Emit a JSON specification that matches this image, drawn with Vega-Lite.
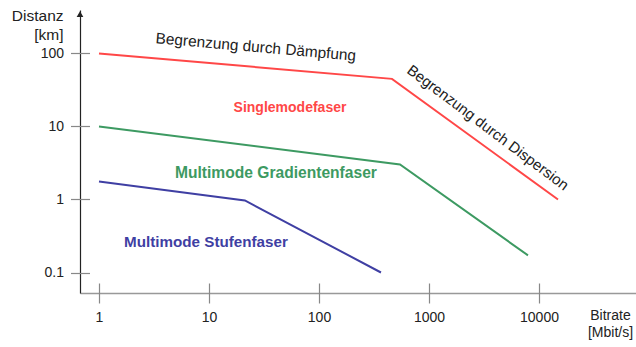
{
  "$schema": "https://vega.github.io/schema/vega-lite/v6.json",
  "width": 556,
  "height": 283,
  "autosize": "none",
  "padding": {"left": 80, "top": 10, "right": 0, "bottom": 54},
  "background": "white",
  "config": {
    "view": {"stroke": null},
    "font": "Liberation Sans",
    "axis": {"labelFont": "Liberation Sans", "titleFont": "Liberation Sans", "labelFontSize": 14, "titleFontSize": 14, "titleFontWeight": "normal", "labelColor": "#222", "titleColor": "#222", "grid": false}
  },
  "datasets": {
    "lines": [
      {"fiber": "Singlemodefaser", "bitrate": 1, "distanz": 100},
      {"fiber": "Singlemodefaser", "bitrate": 461, "distanz": 44.9},
      {"fiber": "Singlemodefaser", "bitrate": 14890, "distanz": 1.0},
      {"fiber": "Multimode Gradientenfaser", "bitrate": 1, "distanz": 10},
      {"fiber": "Multimode Gradientenfaser", "bitrate": 545, "distanz": 3.01},
      {"fiber": "Multimode Gradientenfaser", "bitrate": 7940, "distanz": 0.172},
      {"fiber": "Multimode Stufenfaser", "bitrate": 1, "distanz": 1.77},
      {"fiber": "Multimode Stufenfaser", "bitrate": 21.2, "distanz": 0.97},
      {"fiber": "Multimode Stufenfaser", "bitrate": 366, "distanz": 0.1}
    ],
    "labels": [
      {"fiber": "Singlemodefaser", "bitrate": 54.5, "distanz": 18.0},
      {"fiber": "Multimode Gradientenfaser", "bitrate": 40.6, "distanz": 2.34},
      {"fiber": "Multimode Stufenfaser", "bitrate": 9.39, "distanz": 0.26}
    ],
    "notes": [
      {"note": "Begrenzung durch Dämpfung", "bitrate": 26.7, "distanz": 122.7},
      {"note": "Begrenzung durch Dispersion", "bitrate": 3437, "distanz": 9.64}
    ],
    "arrow": [
      {"bitrate": 0.672, "distanz": 346}
    ]
  },
  "resolve": {"axis": {"x": "independent", "y": "independent"}},
  "layer": [
    {
      "data": {"name": "lines"},
      "mark": {"type": "line", "strokeWidth": 2},
      "encoding": {
        "x": {"field": "bitrate", "type": "quantitative", "scale": {"type": "log", "domain": [0.672, 76200], "nice": false},
          "axis": {"orient": "bottom", "domain": true, "domainColor": "#999", "domainWidth": 1.6, "ticks": false, "labels": false,
            "title": ["Bitrate", "[Mbit/s]"], "titleAngle": 0, "titleAlign": "center", "titleBaseline": "middle", "titleX": 530, "titleY": 22, "titleLineHeight": 17, "titleFontSize": 14}},
        "y": {"field": "distanz", "type": "quantitative", "scale": {"type": "log", "domain": [0.0524, 394], "nice": false},
          "axis": {"orient": "left", "domain": true, "domainColor": "#222", "domainWidth": 1.2, "ticks": false, "labels": false,
            "title": ["Distanz", "[km]"], "titleAngle": 0, "titleAlign": "right", "titleBaseline": "middle", "titleX": -17, "titleY": 5, "titleLineHeight": 19, "titleFontSize": 15.5}},
        "color": {"field": "fiber", "type": "nominal", "legend": null,
          "scale": {"domain": ["Singlemodefaser", "Multimode Gradientenfaser", "Multimode Stufenfaser"], "range": ["#ff4747", "#3d9a62", "#3f3fa3"]}},
        "detail": {"field": "fiber"}
      }
    },
    {
      "data": {"name": "labels"},
      "mark": {"type": "text", "fontWeight": "bold", "font": "Liberation Sans", "align": "center", "baseline": "middle"},
      "encoding": {
        "x": {"field": "bitrate", "type": "quantitative", "scale": {"type": "log", "domain": [0.672, 76200], "nice": false}, "axis": null},
        "y": {"field": "distanz", "type": "quantitative", "scale": {"type": "log", "domain": [0.0524, 394], "nice": false}, "axis": null},
        "text": {"field": "fiber"},
        "size": {"field": "fiber", "type": "nominal", "legend": null,
          "scale": {"type": "ordinal", "domain": ["Singlemodefaser", "Multimode Gradientenfaser", "Multimode Stufenfaser"], "range": [14, 15.6, 15.2]}},
        "color": {"field": "fiber", "type": "nominal", "legend": null,
          "scale": {"domain": ["Singlemodefaser", "Multimode Gradientenfaser", "Multimode Stufenfaser"], "range": ["#ff4747", "#3d9a62", "#3f3fa3"]}}
      }
    },
    {
      "data": {"name": "notes"},
      "transform": [{"filter": "datum.note == 'Begrenzung durch Dämpfung'"}],
      "mark": {"type": "text", "fontSize": 15.4, "font": "Liberation Sans", "align": "center", "baseline": "middle", "angle": 5, "color": "#222"},
      "encoding": {
        "x": {"field": "bitrate", "type": "quantitative", "scale": {"type": "log", "domain": [0.672, 76200], "nice": false}, "axis": null},
        "y": {"field": "distanz", "type": "quantitative", "scale": {"type": "log", "domain": [0.0524, 394], "nice": false}, "axis": null},
        "text": {"field": "note"}
      }
    },
    {
      "data": {"name": "notes"},
      "transform": [{"filter": "datum.note == 'Begrenzung durch Dispersion'"}],
      "mark": {"type": "text", "fontSize": 15, "font": "Liberation Sans", "align": "center", "baseline": "middle", "angle": 37, "color": "#222"},
      "encoding": {
        "x": {"field": "bitrate", "type": "quantitative", "scale": {"type": "log", "domain": [0.672, 76200], "nice": false}, "axis": null},
        "y": {"field": "distanz", "type": "quantitative", "scale": {"type": "log", "domain": [0.0524, 394], "nice": false}, "axis": null},
        "text": {"field": "note"}
      }
    },
    {
      "data": {"name": "arrow"},
      "mark": {"type": "point", "shape": "triangle-up", "filled": true, "color": "#222", "size": 45, "opacity": 1, "clip": false},
      "encoding": {
        "x": {"field": "bitrate", "type": "quantitative", "scale": {"type": "log", "domain": [0.672, 76200], "nice": false},
          "axis": {"orient": "bottom", "offset": -10, "tickSize": 20, "domain": false, "ticks": true, "tickColor": "#888", "tickWidth": 1.2,
            "labels": true, "labelPadding": 7, "values": [1, 10, 100, 1000, 10000], "format": "d", "title": null}},
        "y": {"field": "distanz", "type": "quantitative", "scale": {"type": "log", "domain": [0.0524, 394], "nice": false},
          "axis": {"orient": "left", "offset": -9.5, "tickSize": 19, "domain": false, "ticks": true, "tickColor": "#888", "tickWidth": 1.2,
            "labels": true, "labelPadding": 7, "values": [0.1, 1, 10, 100], "format": "~r", "title": null}}
      }
    }
  ]
}
